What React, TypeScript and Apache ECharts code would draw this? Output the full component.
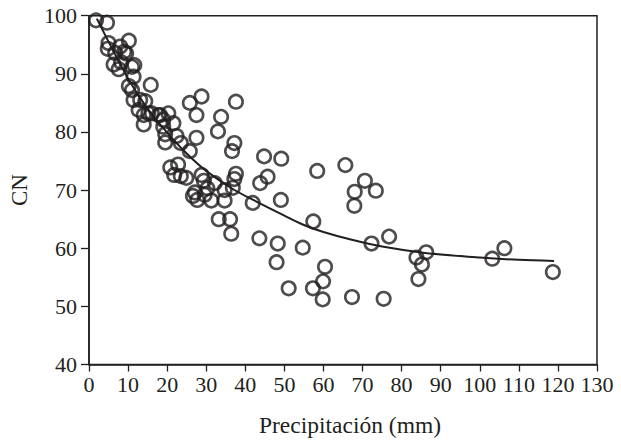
import React, { useEffect, useRef } from "react";
import * as echarts from "echarts";

// Observed points (precipitation in mm, CN)
const precip: number[] = [
  1.8, 4.6, 5.0, 4.8, 10.2, 8.0, 6.7, 9.0, 6.3, 7.6, 11.0, 11.4, 10.2, 11.0, 15.8, 11.4,
  13.1, 14.4, 12.7, 14.0, 16.1, 14.0, 18.2, 19.0, 20.3, 19.0, 21.6, 19.5, 19.5, 22.4,
  23.5, 25.8, 17.8, 15.2, 9.5, 8.2, 11.6,
  25.8, 28.8, 27.5, 33.8, 33.0, 27.5, 37.6, 37.2, 36.6, 44.8, 49.2, 58.4, 65.6,
  20.8, 22.8, 21.8, 23.5, 24.9, 28.8, 29.4, 30.3, 26.6, 27.7, 31.3, 34.7, 36.8, 37.6,
  37.2, 34.7, 43.8, 45.7, 41.9, 49.1, 33.2, 36.1, 36.4, 43.6, 48.3, 54.7, 48.0, 57.4,
  60.4, 59.9, 57.3, 51.1, 59.8, 67.3, 75.4, 68.0, 73.4, 70.6, 67.9, 72.3, 76.8, 86.3,
  83.8, 85.2, 84.3, 103.2, 106.3, 118.7, 27.1, 32.2, 29.6,
];
const cn: number[] = [
  99.2, 98.8, 95.3, 94.3, 95.7, 94.7, 93.6, 93.8, 91.6, 90.8, 91.2, 89.5, 87.9, 87.2, 88.1, 85.5,
  85.5, 85.3, 83.8, 82.9, 83.2, 81.3, 82.9, 82.1, 83.2, 80.9, 81.5, 79.6, 78.2, 79.3,
  78.1, 76.7, 82.9, 83.2, 93.5, 92.0, 91.5,
  85.0, 86.1, 82.9, 82.6, 80.1, 79.0, 85.2, 78.1, 76.7, 75.8, 75.4, 73.3, 74.3,
  73.9, 74.4, 72.6, 72.4, 72.1, 72.6, 71.6, 70.3, 69.0, 68.3, 68.2, 70.0, 70.4, 72.8,
  71.9, 68.2, 71.2, 72.3, 67.8, 68.3, 65.0, 65.0, 62.5, 61.7, 60.8, 60.1, 57.6, 64.6,
  56.8, 54.3, 53.1, 53.1, 51.2, 51.6, 51.3, 69.7, 69.9, 71.6, 67.3, 60.8, 62.0, 59.3,
  58.4, 57.2, 54.7, 58.2, 60.0, 55.9, 69.6, 71.2, 69.2,
];

// Fitted curve
const curveX: number[] = [2, 10, 15, 20, 25, 30, 37, 42, 50, 55, 60, 67, 75, 86, 100, 110, 119];
const curveY: number[] = [99.5, 89.2, 84.0, 79.9, 76.3, 73.3, 70.1, 68.3, 65.6, 64.0, 62.8, 61.5, 60.3, 59.2, 58.4, 58.0, 57.8];

const xTicks = { min: 0, max: 130, interval: 10 };
const yTicks = { min: 40, max: 100, interval: 10 };

const INK = "#231f20";
const FONT = "'Liberation Serif', 'Times New Roman', serif";

export default function App() {
  const ref = useRef<HTMLDivElement>(null);
  useEffect(() => {
    if (!ref.current) return;
    const chart = echarts.init(ref.current, undefined, { renderer: "svg" });
    const scatterData = precip.map((x, i) => [x, cn[i]]);
    const curveData = curveX.map((x, i) => [x, curveY[i]]);
    chart.setOption({
      animation: false,
      backgroundColor: "#ffffff",
      textStyle: { fontFamily: FONT },
      grid: {
        left: 85.5,
        right: 24,
        top: 15.7,
        bottom: 79.5,
        show: true,
        borderColor: INK,
        borderWidth: 1.5,
        backgroundColor: "transparent",
      },
      xAxis: {
        type: "value",
        min: xTicks.min,
        max: xTicks.max,
        interval: xTicks.interval,
        name: "Precipitación (mm)",
        nameLocation: "middle",
        nameGap: 48,
        nameTextStyle: { fontFamily: FONT, fontSize: 23.5, color: INK, padding: [0, 0, 0, 14] },
        axisLine: { show: true, lineStyle: { color: INK, width: 1.5 } },
        axisTick: { show: true, inside: false, length: 7, lineStyle: { color: INK, width: 1.3 } },
        axisLabel: { fontFamily: FONT, fontSize: 22, color: INK, margin: 9 },
        splitLine: { show: false },
      },
      yAxis: {
        type: "value",
        min: yTicks.min,
        max: yTicks.max,
        interval: yTicks.interval,
        name: "CN",
        nameLocation: "middle",
        nameGap: 58,
        nameRotate: 90,
        nameTextStyle: { fontFamily: FONT, fontSize: 23, color: INK },
        axisLine: { show: true, lineStyle: { color: INK, width: 1.5 } },
        axisTick: { show: true, inside: false, length: 8, lineStyle: { color: INK, width: 1.3 } },
        axisLabel: { fontFamily: FONT, fontSize: 22, color: INK, margin: 12 },
        splitLine: { show: false },
      },
      series: [
        {
          type: "line",
          data: curveData,
          smooth: 0.3,
          showSymbol: false,
          symbol: "none",
          lineStyle: { color: INK, width: 2 },
          z: 2,
        },
        {
          type: "scatter",
          data: scatterData,
          symbol: "circle",
          symbolSize: 13.5,
          itemStyle: { color: "rgba(0,0,0,0)", borderColor: INK, borderWidth: 2.6 },
          z: 3,
        },
      ],
    });
    return () => chart.dispose();
  }, []);
  return (
    <div
      ref={ref}
      style={{ position: "absolute", left: 0, top: 0, width: 621, height: 444 }}
    />
  );
}
